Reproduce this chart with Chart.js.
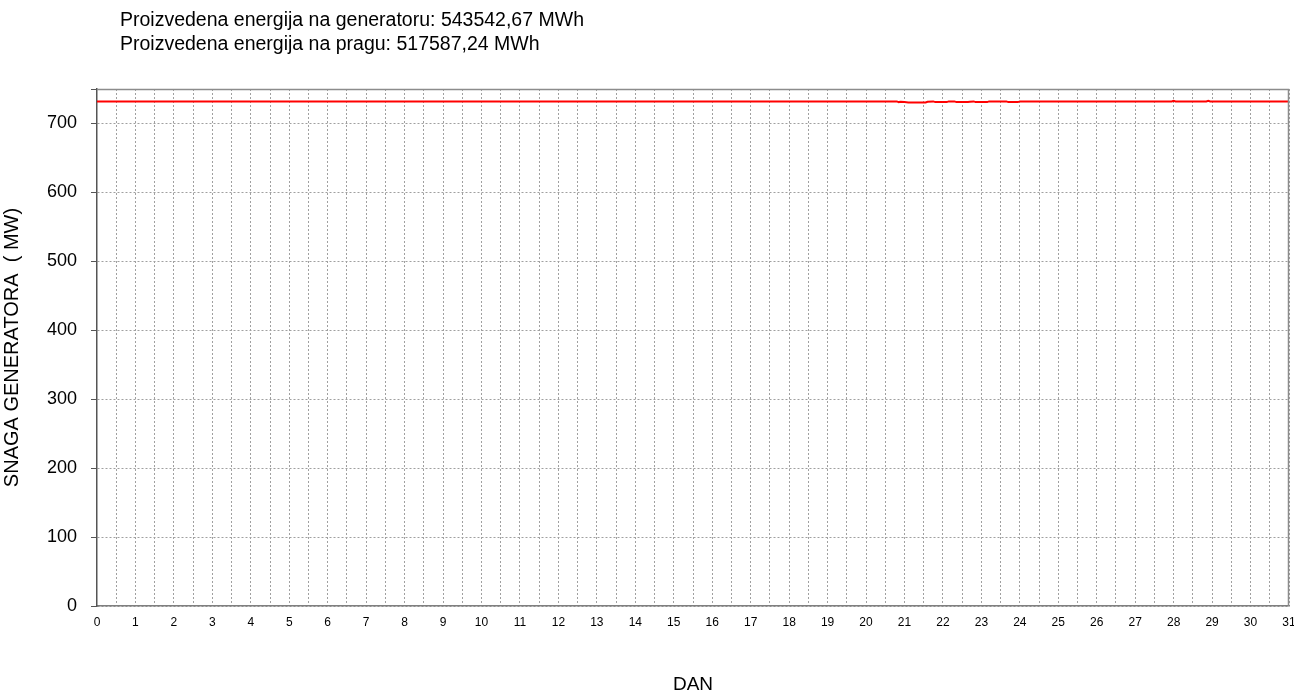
<!DOCTYPE html>
<html>
<head>
<meta charset="utf-8">
<script src="https://cdn.jsdelivr.net/npm/chart.js@4/dist/chart.umd.min.js"></script>
<style>
  body { margin: 0; background: #fff; }
  canvas { display: block; }
</style>
</head>
<body>
<canvas id="chart" width="1294" height="696"></canvas>
<script>
// header lines
var headerLines = [
    'Proizvedena energija na generatoru: 543542,67 MWh',
    'Proizvedena energija na pragu: 517587,24 MWh'
];

// day positions (x) and generator power in MW (y)
var days = [0, 20.8, 20.85, 20.9, 21.0, 21.1, 21.55, 21.6, 21.75, 21.8, 22.1, 22.15, 22.3, 22.35, 22.65, 22.7,
            22.8, 22.85, 23.15, 23.2, 23.65, 23.7, 23.95, 24.0, 27.95, 28.0, 28.05, 28.85, 28.9, 28.95, 31];
var snaga = [732, 732, 731, 731.5, 731, 730.5, 730.5, 731.5, 732, 731, 731, 732, 732, 731, 731, 731.5,
             732, 731, 731, 732, 732, 731, 731, 732, 732, 733, 732, 732, 733, 732, 732];

var xTitle = 'DAN';
var yTitle = 'SNAGA GENERATORA  ( MW)';

var points = [];
for (var i = 0; i < days.length; i++) {
    points.push({ x: days[i], y: snaga[i] });
}

var font = "'Liberation Sans', Arial, sans-serif";

var frame = {
    id: 'frame',
    afterDraw: function(chart) {
        var ctx = chart.ctx, a = chart.chartArea;
        ctx.save();
        ctx.strokeStyle = '#8c8c8c';
        ctx.lineWidth = 1.5;
        ctx.beginPath();
        ctx.moveTo(a.left, a.top + 0.5);
        ctx.lineTo(a.right - 0.5, a.top + 0.5);
        ctx.lineTo(a.right - 0.5, a.bottom);
        ctx.stroke();
        ctx.fillStyle = '#000';
        ctx.font = '19.5px ' + font;
        ctx.textBaseline = 'middle';
        ctx.fillText(headerLines[0], 120, 21);
        ctx.fillText(headerLines[1], 120, 45);
        ctx.restore();
    }
};

var ctx = document.getElementById('chart').getContext('2d');
new Chart(ctx, {
    type: 'line',
    data: {
        datasets: [{
            data: points,
            borderColor: 'rgb(255, 0, 0)',
            borderWidth: 2,
            pointRadius: 0,
            tension: 0
        }]
    },
    options: {
        responsive: false,
        animation: false,
        layout: { padding: { top: 89, right: 5, left: 0, bottom: 0 } },
        plugins: { legend: { display: false }, tooltip: { enabled: false }, title: { display: false } },
        scales: {
            x: {
                type: 'linear',
                min: 0,
                max: 31,
                afterFit: function(scale) {
                    scale.height = 90;
                    scale.paddingLeft = 0;
                    scale.paddingRight = 0;
                },
                ticks: {
                    stepSize: 0.5,
                    autoSkip: false,
                    maxRotation: 0,
                    color: '#000',
                    padding: 9,
                    font: { family: font, size: 12 },
                    callback: function(v) { return Number.isInteger(v) ? String(v) : ''; }
                },
                grid: {
                    drawTicks: false,
                    color: function(c) { return (c.tick && (c.tick.value === 0)) ? 'rgba(0,0,0,0)' : '#a0a0a0'; },
                    lineWidth: 1
                },
                border: { color: '#7f7f7f', width: 1.5, dash: [2, 2] },
                title: {
                    display: true,
                    text: xTitle,
                    color: '#000',
                    font: { family: font, size: 19 },
                    padding: { top: 0, bottom: 0 }
                }
            },
            y: {
                min: 0,
                max: 750,
                afterFit: function(scale) { scale.width = 97; },
                ticks: {
                    stepSize: 100,
                    color: '#000',
                    padding: 14,
                    font: { family: font, size: 18 },
                    callback: function(v) { return v % 100 === 0 ? String(v) : ''; }
                },
                grid: {
                    drawTicks: true,
                    tickLength: 6,
                    tickColor: '#555',
                    color: function(c) { return (c.tick && c.tick.value % 100 !== 0) ? 'rgba(0,0,0,0)' : '#a0a0a0'; },
                    lineWidth: 1
                },
                border: { color: '#555', width: 1.5, dash: [2, 2] },
                title: {
                    display: true,
                    text: yTitle,
                    color: '#000',
                    font: { family: font, size: 20 },
                    padding: { top: 0, bottom: 4 }
                }
            }
        }
    },
    plugins: [frame]
});
</script>
</body>
</html>
